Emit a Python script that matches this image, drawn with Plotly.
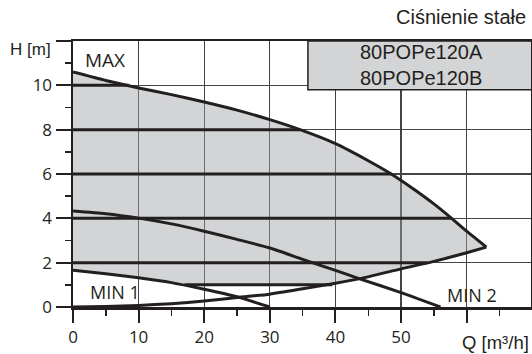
import plotly.graph_objects as go

# ---- data ----
max_q = [0, 5, 10, 15, 20, 25, 30, 34.6, 40, 45, 48.5, 52, 55, 57.7, 60, 63]
max_h = [10.6, 10.22, 9.88, 9.58, 9.25, 8.88, 8.45, 8.0, 7.37, 6.6, 6.0, 5.3, 4.65, 4.0, 3.42, 2.7]

sys_q = [0, 5, 10, 15, 20, 26, 30, 35, 40, 43.7, 50, 55, 60, 63]
sys_h = [0, 0.02, 0.07, 0.15, 0.27, 0.46, 0.58, 0.82, 1.07, 1.28, 1.72, 2.06, 2.45, 2.7]

min1_q = [0, 5, 10, 15, 20, 25, 30]
min1_h = [1.66, 1.5, 1.32, 1.1, 0.8, 0.46, 0.0]

min2_q = [0, 5, 10, 15, 20, 25, 30, 35, 40, 43.7, 50, 56]
min2_h = [4.33, 4.21, 4.01, 3.75, 3.42, 3.05, 2.66, 2.15, 1.65, 1.27, 0.65, 0.0]

level_h = [1, 2, 4, 6, 8, 10]
level_q_start = [17, 0, 0, 0, 0, 0]
level_q_end = [39.5, 54.0, 57.7, 48.5, 34.6, 8.5]

x_ticks = [0, 10, 20, 30, 40, 50, 60]
x_ticktext = ["0", "10", "20", "30", "40", "50", ""]
x_minor = [5, 15, 25, 35, 45, 55, 65]
y_ticks = [0, 2, 4, 6, 8, 10, 12]
y_ticktext = ["0", "2", "4", "6", "8", "10", ""]
y_minor = [1, 3, 5, 7, 9, 11]

box_q = [35.8, 69.8]
box_h = [9.8, 12]
box_text = "80POPe120A<br>80POPe120B"

# ---- styling ----
INK = "#231f20"
GRID = "#444444"
FILL = "rgba(158,160,165,0.45)"
BOX_FILL = "#d3d4d6"

W, H = 532, 354
ML, MR, MT, MB = 73, 1, 41, 47
PW, PH = W - ML - MR, H - MT - MB

# gray operating region polygon built from the curves
corner_lo_q = level_q_end[0]
corner_lo_h = level_h[0]
start_q = level_q_start[0]
poly_q = list(max_q)
poly_h = list(max_h)
for q, h in reversed(list(zip(sys_q, sys_h))):
    if corner_lo_q < q < max_q[-1]:
        poly_q.append(q)
        poly_h.append(h)
poly_q += [corner_lo_q, start_q]
poly_h += [corner_lo_h, corner_lo_h]
for q, h in reversed(list(zip(min1_q, min1_h))):
    if q < start_q:
        poly_q.append(q)
        poly_h.append(h)

fig = go.Figure()
fig.add_trace(go.Scatter(x=poly_q, y=poly_h, fill="toself", fillcolor=FILL,
                         mode="none", hoverinfo="skip"))

for h, q0, q1 in zip(level_h, level_q_start, level_q_end):
    fig.add_trace(go.Scatter(x=[q0, q1], y=[h, h], mode="lines",
                             line=dict(color=INK, width=3)))

for xs, ys in [(max_q, max_h), (sys_q, sys_h), (min1_q, min1_h), (min2_q, min2_h)]:
    fig.add_trace(go.Scatter(x=xs, y=ys, mode="lines",
                             line=dict(color=INK, width=3, shape="spline", smoothing=0.6)))

fig.add_shape(type="rect", xref="x", yref="y", x0=box_q[0], x1=box_q[1] + 1,
              y0=box_h[0], y1=box_h[1], fillcolor=BOX_FILL,
              line=dict(color=INK, width=1.5), layer="above")

fig.add_annotation(x=(box_q[0] + box_q[1]) / 2 + 0.3, y=(box_h[0] + box_h[1]) / 2,
                   xref="x", yref="y", text=box_text, showarrow=False,
                   font=dict(family="Liberation Sans, Arial", size=20, color=INK))

fig.add_annotation(x=4.83, y=11.15, xref="x", yref="y", text="MAX",
                   showarrow=False, font=dict(family="Open Sans", size=19, color=INK))
fig.add_annotation(x=6.4, y=0.68, xref="x", yref="y", text="MIN 1",
                   showarrow=False, font=dict(family="Open Sans", size=18, color=INK))
fig.add_annotation(x=60.8, y=0.56, xref="x", yref="y", text="MIN 2",
                   showarrow=False, font=dict(family="Open Sans", size=18, color=INK))

arial = dict(family="Liberation Sans, Arial", color=INK)
fig.add_annotation(x=(53.3 - ML) / PW, y=(H - MB - 49.5) / PH, xref="paper", yref="paper",
                   xanchor="right", yanchor="middle", text="H [m]", showarrow=False,
                   font=dict(size=17, **arial))
fig.add_annotation(x=(528 - ML) / PW, y=(H - MB - 17) / PH, xref="paper", yref="paper",
                   xanchor="right", yanchor="middle", text="Ciśnienie stałe", showarrow=False,
                   font=dict(size=20, **arial))
fig.add_annotation(x=(531 - ML) / PW, y=(H - MB - 342) / PH, xref="paper", yref="paper",
                   xanchor="right", yanchor="middle", text="Q [m³/h]", showarrow=False,
                   font=dict(size=18.5, **arial))

tickfont = dict(family="Open Sans", size=17, color=INK)
fig.update_xaxes(range=[0, 69.8], tickvals=x_ticks, ticktext=x_ticktext, ticks="outside",
                 ticklen=13, tickwidth=2, tickcolor=INK, showgrid=True, gridcolor=GRID,
                 gridwidth=1.2, showline=True, linecolor=INK, linewidth=2.5, mirror=True,
                 zeroline=False, tickfont=tickfont, automargin=False,
                 minor=dict(tickvals=x_minor, ticks="outside", ticklen=6, tickwidth=1.5,
                            tickcolor=INK, showgrid=False))
fig.update_yaxes(range=[0, 12], tickvals=y_ticks, ticktext=y_ticktext, ticks="outside",
                 ticklen=15, tickwidth=2, tickcolor=INK, showgrid=True, gridcolor=GRID,
                 gridwidth=1.2, showline=True, linecolor=INK, linewidth=2.5, mirror=True,
                 zeroline=False, tickfont=tickfont, automargin=False,
                 minor=dict(tickvals=y_minor, ticks="outside", ticklen=6, tickwidth=1.5,
                            tickcolor=INK, showgrid=False))

fig.update_layout(width=W, height=H, margin=dict(l=ML, r=MR, t=MT, b=MB),
                  paper_bgcolor="white", plot_bgcolor="white", showlegend=False)

fig.write_html("out.html",
               config={"displayModeBar": False, "staticPlot": True},
               post_script="document.body.style.margin='0';"
                           "document.body.style.overflow='hidden';")
